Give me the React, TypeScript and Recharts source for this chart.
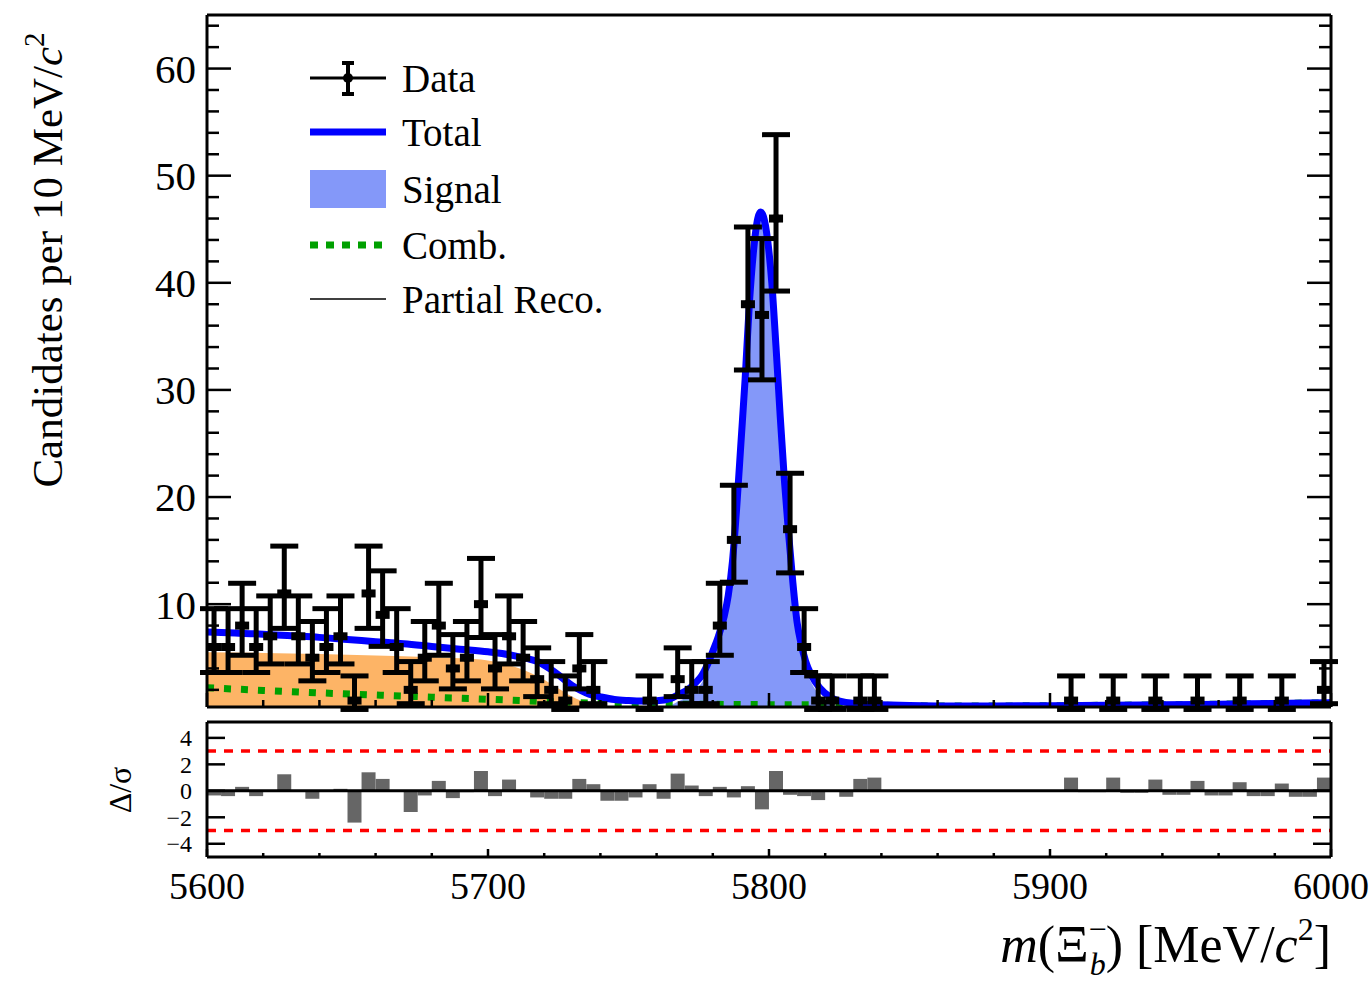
import {
  ComposedChart,
  Line,
  Area,
  Bar,
  Scatter,
  XAxis,
  YAxis,
  ErrorBar,
  ReferenceLine,
  Legend,
} from "recharts";

const FONT = "'Liberation Serif', 'Times New Roman', serif";

// 5 MeV bins between 5600 and 6000
const binCenters = Array.from({ length: 80 }, (_, i) => 5602.5 + 5 * i);

const counts = [
  6, 6, 8, 6, 7, 11, 7, 5, 6, 7,
  1, 11, 9, 6, 2, 5, 8, 4, 5, 10,
  4, 7, 5, 3, 2, 1, 4, 2, 0, 0,
  0, 1, 0, 3, 2, 2, 8, 16, 38, 37,
  46, 17, 6, 1, 1, 0, 1, 1, 0, 0,
  0, 0, 0, 0, 0, 0, 0, 0, 0, 0,
  0, 1, 0, 0, 1, 0, 0, 1, 0, 0,
  1, 0, 0, 1, 0, 0, 1, 0, 0, 2,
];

const pulls = [
  -0.35, -0.4, 0.3, -0.4, -0.05, 1.25, 0.05, -0.6, -0.05, 0.15,
  -2.4, 1.4, 0.9, 0.0, -1.6, -0.35, 0.75, -0.55, -0.1, 1.5,
  -0.4, 0.85, 0.0, -0.5, -0.6, -0.6, 0.9, 0.5, -0.75, -0.75,
  -0.5, 0.5, -0.6, 1.3, 0.4, -0.4, 0.3, -0.5, 0.35, -1.4,
  1.5, -0.3, -0.4, -0.7, -0.05, -0.45, 0.9, 1.0, -0.05, -0.05,
  -0.05, -0.05, -0.05, -0.05, -0.05, -0.05, -0.05, -0.06, -0.06, -0.07,
  -0.08, 1.0, -0.1, -0.1, 1.0, -0.15, -0.15, 0.85, -0.3, -0.3,
  0.75, -0.35, -0.35, 0.65, -0.4, -0.4, 0.55, -0.45, -0.45, 1.0,
];

// Poisson (Garwood) error bars by count
const poissonLow: Record<number, number> = {
  1: 0.83, 2: 1.29, 3: 1.63, 4: 1.91, 5: 2.16, 6: 2.38, 7: 2.58, 8: 2.77,
  9: 2.94, 10: 3.11, 11: 3.26, 16: 3.95, 17: 4.08, 37: 6.06, 38: 6.14, 46: 6.77,
};
const poissonHigh: Record<number, number> = {
  1: 2.3, 2: 2.64, 3: 2.92, 4: 3.16, 5: 3.38, 6: 3.58, 7: 3.77, 8: 3.95,
  9: 4.11, 10: 4.27, 11: 4.42, 16: 5.1, 17: 5.22, 37: 7.13, 38: 7.21, 46: 7.83,
};

// fit curves
const totalMass = [
  5600, 5610, 5620, 5630, 5640, 5650, 5660, 5670, 5680, 5690, 5700,
  5705, 5710, 5715, 5718, 5720, 5723, 5726, 5730, 5733, 5736, 5740,
  5745, 5750, 5755, 5760, 5765, 5768, 5771, 5774, 5776, 5778, 5780, 5782, 5784,
  5785.5, 5787, 5788.5, 5790, 5791.5, 5793, 5794.5, 5796, 5797, 5798,
  5799.5, 5801, 5802.5, 5804, 5805.5, 5807, 5808.5, 5810, 5811.5, 5813,
  5815, 5818, 5822, 5826, 5830, 5840, 5860, 5880, 5900, 5920, 5940, 5960, 5980, 6000,
];
const totalVal = [
  7.4, 7.3, 7.2, 7.05, 6.9, 6.7, 6.5, 6.3, 6.05, 5.8, 5.55,
  5.4, 5.15, 4.85, 4.6, 4.3, 3.8, 3.2, 2.4, 1.95, 1.6, 1.35,
  1.1, 1.0, 0.95, 0.98, 1.2, 1.6, 2.0, 2.7, 3.3, 4.3, 5.6, 7.0, 8.8,
  10.8, 14, 19, 25, 31, 38, 43, 46, 46.6, 46.2,
  44, 40, 34, 27.5, 21.5, 16.5, 12, 8.3, 6.2, 4.7,
  3.4, 2.2, 1.3, 0.9, 0.75, 0.6, 0.5, 0.5, 0.52, 0.56, 0.6, 0.66, 0.73, 0.8,
];

const signalMass = [
  5745, 5750, 5755, 5760, 5765, 5768, 5771, 5774, 5776, 5778,
  5780, 5782, 5784, 5785.5, 5787, 5788.5, 5790, 5791.5, 5793, 5794.5,
  5796, 5797, 5798, 5799.5, 5801, 5802.5, 5804, 5805.5, 5807, 5808.5,
  5810, 5811.5, 5813, 5815, 5818, 5822, 5826, 5830, 5840,
];
const signalVal = [
  0.1, 0.2, 0.25, 0.3, 0.55, 0.95, 1.35, 2.05, 2.65, 3.65,
  4.95, 6.35, 8.15, 10.15, 13.3, 18.3, 24.3, 30.3, 37.3, 42.3,
  45.3, 45.9, 45.5, 43.3, 39.3, 33.3, 26.8, 20.8, 15.8, 11.3,
  7.6, 5.5, 4.0, 2.7, 1.5, 0.65, 0.3, 0.15, 0.05,
];

const combMass = [
  5600, 5620, 5640, 5660, 5680, 5700, 5720, 5740, 5760, 5780, 5800,
  5820, 5840, 5860, 5880, 5900, 5920, 5940, 5960, 5980, 6000,
];
const combVal = [
  2.2, 1.95, 1.72, 1.52, 1.32, 1.12, 0.92, 0.75, 0.68, 0.65, 0.62,
  0.6, 0.56, 0.5, 0.5, 0.52, 0.56, 0.6, 0.66, 0.73, 0.8,
];

const partialMass = [
  5600, 5620, 5640, 5660, 5680, 5690, 5700, 5705, 5710, 5715, 5720,
  5725, 5730, 5735, 5738, 5740, 5742, 5745,
];
const partialVal = [
  5.5, 5.45, 5.35, 5.2, 5.05, 4.95, 4.75, 4.5, 4.1, 3.6, 2.95,
  2.15, 1.35, 0.8, 0.5, 0.3, 0.2, 0,
];

const massTicks = [
  5600, 5620, 5640, 5660, 5680, 5700, 5720, 5740, 5760, 5780, 5800,
  5820, 5840, 5860, 5880, 5900, 5920, 5940, 5960, 5980, 6000,
];
const countTicks = [
  2, 4, 6, 8, 10, 12, 14, 16, 18, 20, 22, 24, 26, 28, 30, 32,
  34, 36, 38, 40, 42, 44, 46, 48, 50, 52, 54, 56, 58, 60, 62, 64,
];
const pullTicks = [-4, -2, 0, 2, 4];

const toSeries = (xs: number[], ys: number[]) => xs.map((m, i) => ({ m, v: ys[i] }));
const totalData = toSeries(totalMass, totalVal);
const signalData = toSeries(signalMass, signalVal);
const combData = toSeries(combMass, combVal);
const partialData = toSeries(partialMass, partialVal);

const pointData = binCenters
  .map((m, i) => ({
    m,
    n: counts[i],
    ex: [2.5, 2.5],
    ey: [poissonLow[counts[i]] ?? 0, poissonHigh[counts[i]] ?? 0],
  }))
  .filter((d) => d.n > 0);

const pullData = binCenters.map((m, i) => ({ m, p: pulls[i] }));

const isMajorMass = (v: number) => Math.abs(v % 100) < 1e-6;
const fmtPull = (v: number) => (v < 0 ? `−${Math.abs(v)}` : `${v}`);

// ---- inward tick marks (ROOT style) ----
const MainLeftTick = ({ x, y, payload }: any) => {
  const major = payload.value % 10 === 0;
  return (
    <g>
      <line x1={x} x2={x + (major ? 24 : 12)} y1={y} y2={y} stroke="#000" strokeWidth={2.5} />
      {major && (
        <text x={x - 11} y={y} dy="0.35em" textAnchor="end" fontSize={41} fontFamily={FONT} fill="#000">
          {payload.value}
        </text>
      )}
    </g>
  );
};
const MainRightTick = ({ x, y, payload }: any) => {
  const major = payload.value % 10 === 0;
  return <line x1={x} x2={x - (major ? 24 : 12)} y1={y} y2={y} stroke="#000" strokeWidth={2.5} />;
};
const MainTopTick = ({ x, y, payload }: any) => (
  <line x1={x} x2={x} y1={y} y2={y + (isMajorMass(payload.value) ? 14 : 7)} stroke="#000" strokeWidth={2.5} />
);
const MainBottomTick = ({ x, y, payload }: any) => (
  <line x1={x} x2={x} y1={y} y2={y - (isMajorMass(payload.value) ? 14 : 7)} stroke="#000" strokeWidth={2.5} />
);

const PullLeftTick = ({ x, y, payload }: any) => (
  <g>
    <line x1={x} x2={x + 18} y1={y} y2={y} stroke="#000" strokeWidth={2.5} />
    <text x={x - 15} y={y} dy="0.35em" textAnchor="end" fontSize={24} fontFamily={FONT} fill="#000">
      {fmtPull(payload.value)}
    </text>
  </g>
);
const PullRightTick = ({ x, y }: any) => (
  <line x1={x} x2={x - 18} y1={y} y2={y} stroke="#000" strokeWidth={2.5} />
);
const PullTopTick = ({ x, y, payload }: any) => (
  <line x1={x} x2={x} y1={y} y2={y + (isMajorMass(payload.value) ? 8 : 4)} stroke="#000" strokeWidth={2.5} />
);
const PullBottomTick = ({ x, y, payload }: any) => {
  const major = isMajorMass(payload.value);
  return (
    <g>
      <line x1={x} x2={x} y1={y} y2={y - (major ? 8 : 4)} stroke="#000" strokeWidth={2.5} />
      {major && (
        <text x={x} y={y + 28} dy="0.36em" textAnchor="middle" fontSize={38} fontFamily={FONT} fill="#000">
          {payload.value}
        </text>
      )}
    </g>
  );
};

const YTitle = () => (
  <text transform="translate(62,260) rotate(-90)" textAnchor="middle" fontSize={43} fontFamily={FONT} fill="#000">
    Candidates per 10 MeV/<tspan fontStyle="italic">c</tspan>
    <tspan fontSize={29} dy={-18}>2</tspan>
  </text>
);

const PullTitle = () => (
  <text transform="translate(131,75) rotate(-90)" textAnchor="middle" fontSize={32} fontFamily={FONT} fill="#000">
    Δ/σ
  </text>
);

const XTitle = ({ viewBox }: any) => (
  <text
    x={viewBox.x + viewBox.width}
    y={viewBox.y + 105}
    textAnchor="end"
    fontSize={52}
    fontFamily={FONT}
    fill="#000"
  >
    <tspan fontStyle="italic">m</tspan>
    <tspan>(Ξ</tspan>
    <tspan fontSize={32} dy={-22}>−</tspan>
    <tspan fontSize={32} fontStyle="italic" dx={-17} dy={35}>b</tspan>
    <tspan dy={-13}>) [MeV/</tspan>
    <tspan fontStyle="italic">c</tspan>
    <tspan fontSize={32} dy={-22}>2</tspan>
    <tspan dy={22}>]</tspan>
  </text>
);

const legendItems = ["Data", "Total", "Signal", "Comb.", "Partial Reco."];

const LegendBox = () => {
  const rows = [33, 87, 144, 200, 254];
  return (
    <svg width={330} height={280} style={{ overflow: "visible" }}>
      <line x1={10} x2={86} y1={rows[0]} y2={rows[0]} stroke="#000" strokeWidth={3} />
      <line x1={48} x2={48} y1={rows[0] - 15} y2={rows[0] + 16} stroke="#000" strokeWidth={4} />
      <line x1={42} x2={54} y1={rows[0] - 15} y2={rows[0] - 15} stroke="#000" strokeWidth={4} />
      <line x1={42} x2={54} y1={rows[0] + 16} y2={rows[0] + 16} stroke="#000" strokeWidth={4} />
      <circle cx={48} cy={rows[0]} r={5} fill="#000" />
      <line x1={10} x2={86} y1={rows[1]} y2={rows[1]} stroke="#0000ff" strokeWidth={7} />
      <rect x={10} y={rows[2] - 19} width={76} height={38} fill="#8498f9" />
      <line x1={10} x2={86} y1={rows[3]} y2={rows[3]} stroke="#00a000" strokeWidth={7} strokeDasharray="8 8" />
      <line x1={10} x2={86} y1={rows[4]} y2={rows[4]} stroke="#000" strokeWidth={1.5} />
      {legendItems.map((t, i) => (
        <text key={t} x={102} y={rows[i]} dy="0.35em" fontSize={39} fontFamily={FONT} fill="#000">
          {t}
        </text>
      ))}
    </svg>
  );
};

const frame = { stroke: "#000", strokeWidth: 3 };

export default function App() {
  return (
    <div style={{ position: "absolute", left: 0, top: 0, width: 1369, height: 982, background: "#fff" }}>
      <div style={{ position: "absolute", left: 0, top: 0 }}>
        <ComposedChart width={1369} height={715} margin={{ top: 14, right: 37, bottom: 7, left: 7 }}>
          <Area
            data={partialData}
            dataKey="v"
            type="monotone"
            fill="#fdb466"
            fillOpacity={1}
            stroke="none"
            isAnimationActive={false}
          />
          <Area
            data={signalData}
            dataKey="v"
            type="monotone"
            fill="#8498f9"
            fillOpacity={1}
            stroke="none"
            isAnimationActive={false}
          />
          <Line
            data={combData}
            dataKey="v"
            type="monotone"
            stroke="#00a000"
            strokeWidth={7}
            strokeDasharray="7 10"
            dot={false}
            isAnimationActive={false}
          />
          <Line
            data={totalData}
            dataKey="v"
            type="monotone"
            stroke="#0000ff"
            strokeWidth={7}
            dot={false}
            isAnimationActive={false}
          />
          <Scatter data={pointData} dataKey="n" fill="#000" isAnimationActive={false}>
            <ErrorBar dataKey="ex" direction="x" width={0} strokeWidth={8} stroke="#000" isAnimationActive={false} />
            <ErrorBar dataKey="ey" direction="y" width={14} strokeWidth={5} stroke="#000" isAnimationActive={false} />
          </Scatter>
          <XAxis
            dataKey="m"
            type="number"
            domain={[5600, 6000]}
            allowDataOverflow
            ticks={massTicks}
            interval={0}
            tickSize={0}
            tickMargin={0}
            tickLine={false}
            tick={MainBottomTick}
            height={1}
            axisLine={frame}
          />
          <XAxis
            xAxisId="top"
            orientation="top"
            type="number"
            domain={[5600, 6000]}
            allowDataOverflow
            ticks={massTicks}
            interval={0}
            tickSize={0}
            tickMargin={0}
            tickLine={false}
            tick={MainTopTick}
            height={1}
            axisLine={frame}
          />
          <YAxis
            type="number"
            domain={[0.4, 65]}
            allowDataOverflow
            ticks={countTicks}
            interval={0}
            tickSize={0}
            tickMargin={0}
            tickLine={false}
            tick={MainLeftTick}
            width={200}
            axisLine={frame}
            label={{ content: YTitle }}
          />
          <YAxis
            yAxisId="right"
            orientation="right"
            type="number"
            domain={[0.4, 65]}
            allowDataOverflow
            ticks={countTicks}
            interval={0}
            tickSize={0}
            tickMargin={0}
            tickLine={false}
            tick={MainRightTick}
            width={1}
            axisLine={frame}
          />
          <Legend
            layout="vertical"
            align="center"
            verticalAlign="middle"
            content={() => <LegendBox />}
            wrapperStyle={{ left: 300, top: 45, width: 330, height: 280 }}
          />
        </ComposedChart>
      </div>

      <div style={{ position: "absolute", left: 0, top: 715 }}>
        <ComposedChart
          width={1369}
          height={267}
          data={pullData}
          margin={{ top: 6, right: 37, bottom: 5, left: 7 }}
          barCategoryGap={0}
          barGap={0}
        >
          <Bar dataKey="p" fill="#666666" isAnimationActive={false} />
          <ReferenceLine y={3} stroke="#ff0000" strokeWidth={3.5} strokeDasharray="9 8" />
          <ReferenceLine y={-3} stroke="#ff0000" strokeWidth={3.5} strokeDasharray="9 8" />
          <ReferenceLine y={0} stroke="#000" strokeWidth={3} />
          <XAxis
            dataKey="m"
            type="number"
            domain={[5600, 6000]}
            allowDataOverflow
            ticks={massTicks}
            interval={0}
            tickSize={0}
            tickMargin={0}
            tickLine={false}
            tick={PullBottomTick}
            height={120}
            axisLine={frame}
            label={{ content: XTitle }}
          />
          <XAxis
            xAxisId="top"
            orientation="top"
            type="number"
            domain={[5600, 6000]}
            allowDataOverflow
            ticks={massTicks}
            interval={0}
            tickSize={0}
            tickMargin={0}
            tickLine={false}
            tick={PullTopTick}
            height={1}
            axisLine={frame}
          />
          <YAxis
            type="number"
            domain={[-5, 5.2]}
            allowDataOverflow
            ticks={pullTicks}
            interval={0}
            tickSize={0}
            tickMargin={0}
            tickLine={false}
            tick={PullLeftTick}
            width={200}
            axisLine={frame}
            label={{ content: PullTitle }}
          />
          <YAxis
            yAxisId="right"
            orientation="right"
            type="number"
            domain={[-5, 5.2]}
            allowDataOverflow
            ticks={pullTicks}
            interval={0}
            tickSize={0}
            tickMargin={0}
            tickLine={false}
            tick={PullRightTick}
            width={1}
            axisLine={frame}
          />
        </ComposedChart>
      </div>
    </div>
  );
}
